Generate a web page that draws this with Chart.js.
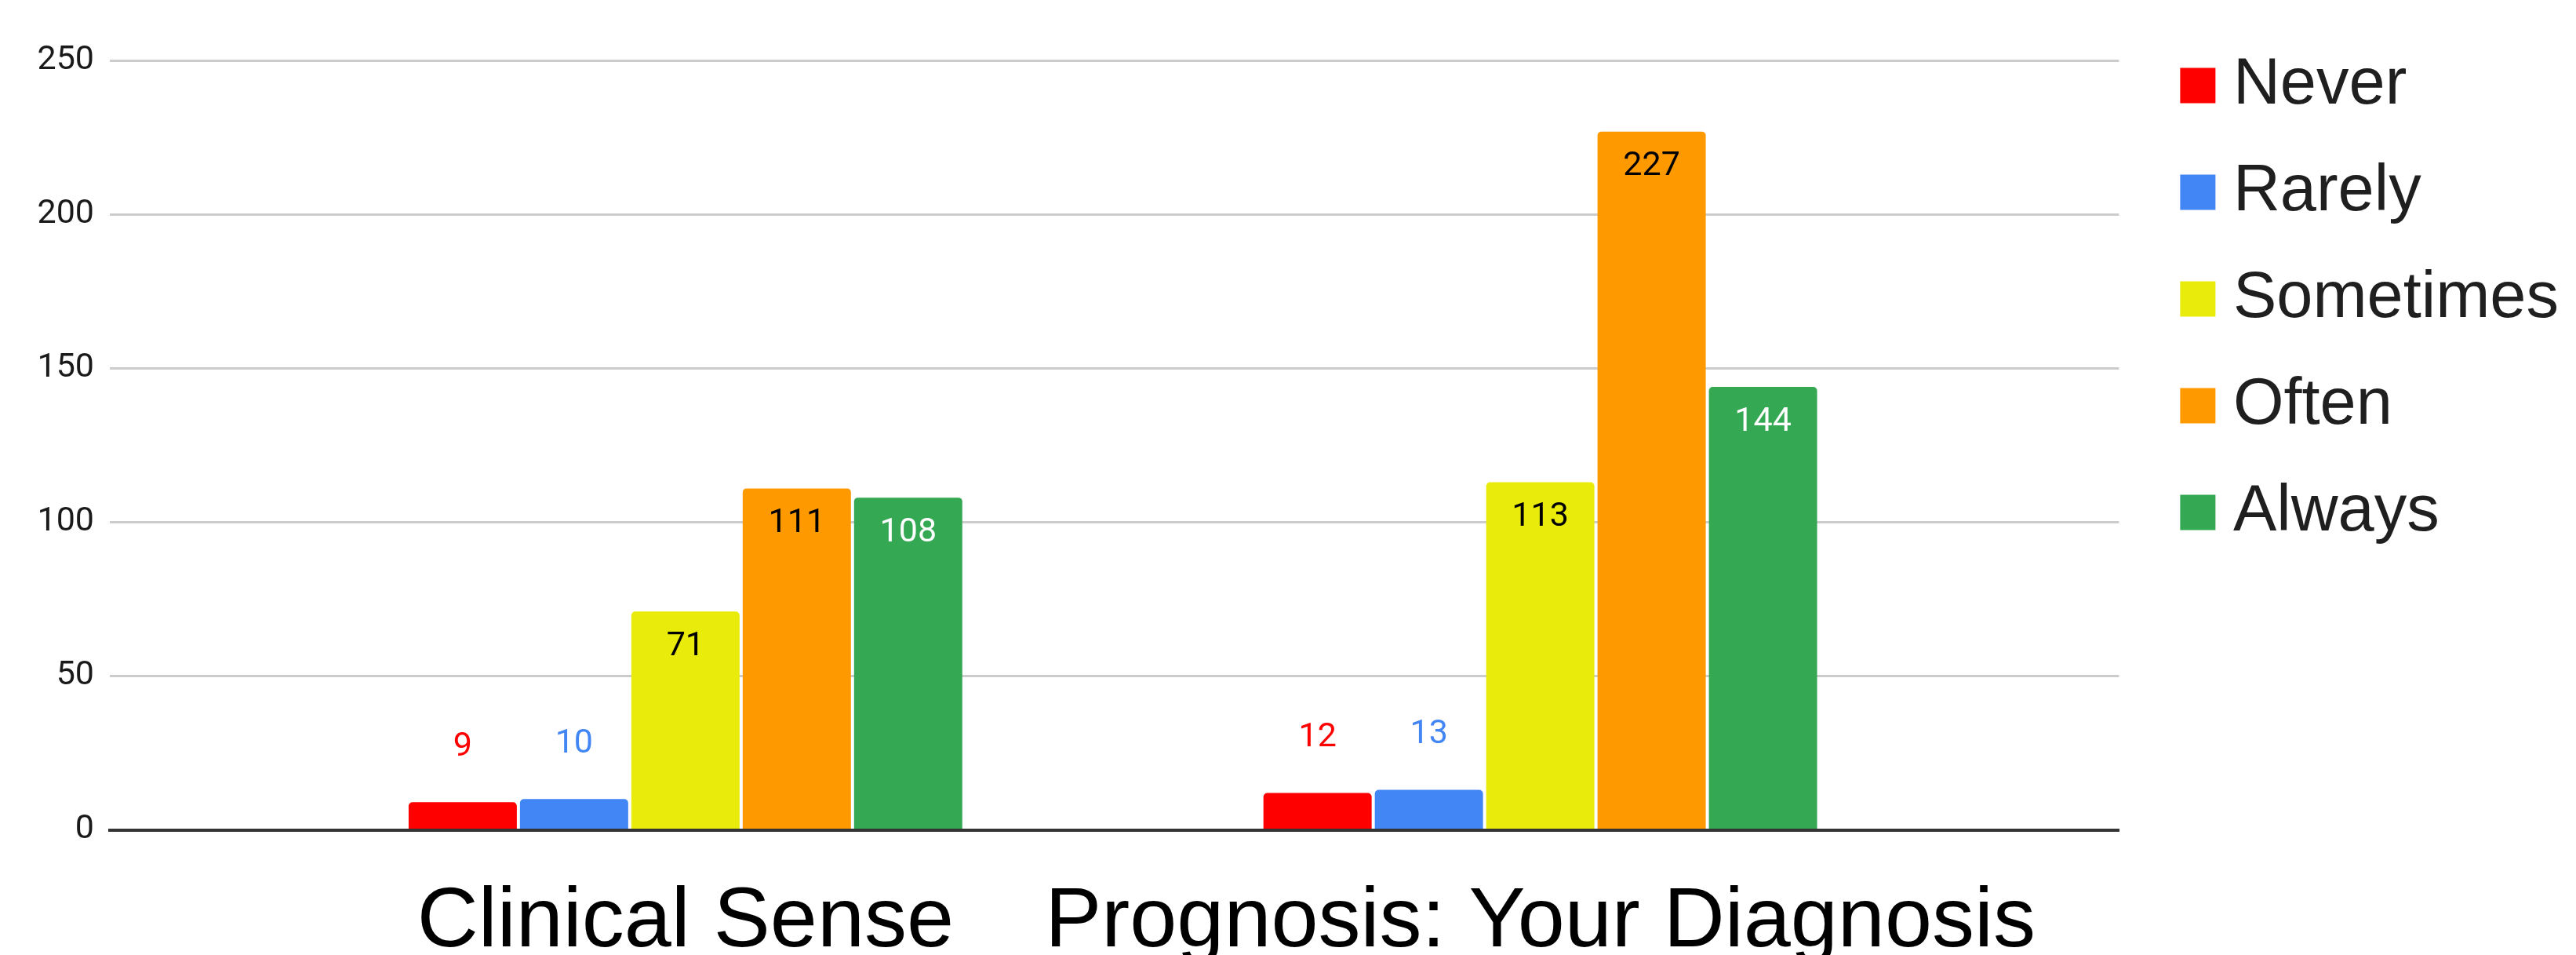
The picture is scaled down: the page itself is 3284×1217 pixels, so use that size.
<!DOCTYPE html>
<html>
<head>
<meta charset="utf-8">
<title>Clinical Sense / Prognosis</title>
<script src="https://cdn.jsdelivr.net/npm/chart.js@4/dist/chart.umd.min.js"></script>
<style>
  html, body { margin: 0; padding: 0; background: #ffffff; }
  #wrap { width: 3284px; height: 1217px; }
</style>
</head>
<body>
<div id="wrap"><canvas id="chart" width="3284" height="1217"></canvas></div>
<script>
// Survey answers per question
const categories = ['Clinical Sense', 'Prognosis: Your Diagnosis'];
const seriesNames = ['Never', 'Rarely', 'Sometimes', 'Often', 'Always'];
const never = [9, 12];
const rarely = [10, 13];
const sometimes = [71, 113];
const often = [111, 227];
const always = [108, 144];
const yTicks = [0, 50, 100, 150, 200, 250];

const seriesValues = [never, rarely, sometimes, often, always];
const seriesColors = ['#ff0000', '#4285f4', '#e9eb0b', '#ff9900', '#34a853'];
const insideLabelColors = ['#ffffff', '#ffffff', '#000000', '#000000', '#ffffff'];

const datasets = seriesNames.map((name, s) => ({
  label: name,
  data: seriesValues[s].map((v, i) => ({ x: i, y: v })),
  backgroundColor: seriesColors[s],
  borderWidth: 0,
  borderRadius: { topLeft: 5, topRight: 5, bottomLeft: 0, bottomRight: 0 },
  categoryPercentage: 0.6514,
  barPercentage: 0.9718
}));

// Value labels: inside the top of tall bars, above short ones
const valueLabels = {
  id: 'valueLabels',
  afterDatasetsDraw(chart) {
    const ctx = chart.ctx;
    ctx.save();
    ctx.font = '43px Roboto, "Liberation Sans", sans-serif';
    ctx.textAlign = 'center';
    ctx.textBaseline = 'middle';
    chart.data.datasets.forEach((ds, di) => {
      const meta = chart.getDatasetMeta(di);
      meta.data.forEach((bar, i) => {
        const v = ds.data[i].y;
        const h = bar.base - bar.y;
        if (h < 90) {
          ctx.fillStyle = seriesColors[di];
          ctx.fillText(String(v), bar.x, bar.y - 70);
        } else {
          ctx.fillStyle = insideLabelColors[di];
          ctx.fillText(String(v), bar.x, bar.y + 45);
        }
      });
    });
    ctx.restore();
  }
};

new Chart(document.getElementById('chart'), {
  type: 'bar',
  data: { datasets },
  plugins: [valueLabels],
  options: {
    responsive: false,
    animation: false,
    devicePixelRatio: 1,
    layout: { padding: { top: 14.5, right: 12, bottom: 0, left: 0 } },
    scales: {
      x: {
        type: 'linear',
        min: -0.6734,
        max: 1.677,
        offset: false,
        grid: { display: false, drawTicks: false, offset: false },
        border: { display: true, color: '#333333', width: 4, z: 1 },
        afterBuildTicks: (s) => { s.ticks = categories.map((_, i) => ({ value: i })); },
        ticks: {
          callback: (v) => categories[v],
          font: { family: '"Liberation Sans", Arial, sans-serif', size: 108 },
          color: '#000000',
          padding: 54,
          maxRotation: 0,
          minRotation: 0,
          autoSkip: false
        },
        afterFit: (s) => { s.height = 159.5; s.paddingLeft = 0; s.paddingRight = 0; }
      },
      y: {
        min: 0,
        max: 250,
        afterBuildTicks: (s) => { s.ticks = yTicks.map((v) => ({ value: v })); },
        grid: { color: '#cccccc', lineWidth: 3, drawTicks: false },
        border: { display: false },
        ticks: {
          font: { family: 'Roboto, "Liberation Sans", sans-serif', size: 43 },
          color: '#1a1a1a',
          padding: 20
        },
        afterFit: (s) => { s.width = 140; s.paddingTop = 77.5; }
      },
      // empty gutter between the plot and the legend
      gutter: {
        type: 'linear',
        position: 'right',
        display: true,
        grid: { display: false, drawTicks: false },
        border: { display: false },
        ticks: { display: false },
        afterFit: (s) => { s.width = 44; s.paddingTop = 0; s.paddingBottom = 0; }
      }
    },
    plugins: {
      tooltip: { enabled: false },
      legend: {
        position: 'right',
        align: 'start',
        labels: {
          usePointStyle: true,
          pointStyle: 'rect',
          boxWidth: 7,
          boxHeight: 45,
          padding: 53,
          color: '#1f1f1f',
          font: { family: '"Liberation Sans", Arial, sans-serif', size: 83 }
        }
      }
    }
  }
});
</script>
</body>
</html>
